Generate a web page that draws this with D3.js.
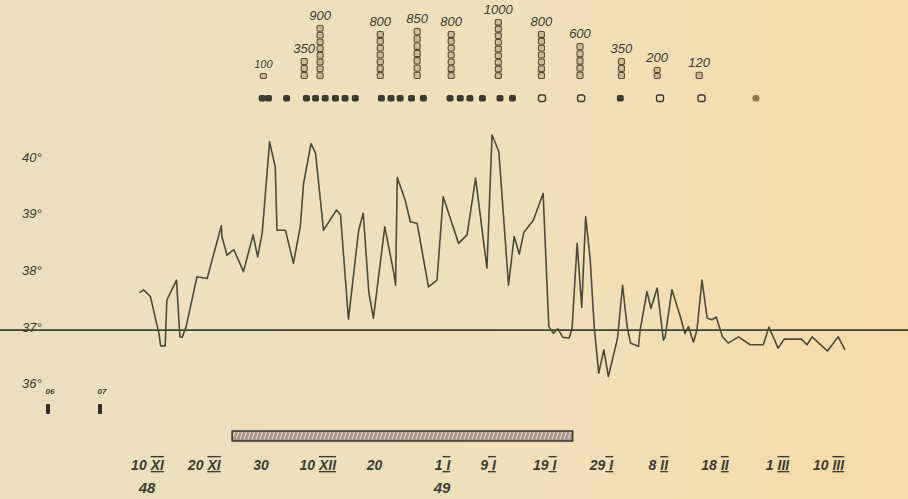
<!DOCTYPE html>
<html>
<head>
<meta charset="utf-8">
<title>Temperature curve XI 1948 - III 1949</title>
<style>
body {
  margin: 0;
  background: #efe0bb;
}

svg {
  display: block;
}

text {
  font-family: "Liberation Sans", sans-serif;
  font-style: italic;
  fill: #3d3c31;
}

.curve {
  fill: none;
  stroke: #4b4b3a;
  stroke-width: 1.6;
  stroke-linejoin: round;
}

.norm {
  stroke: #3e4433;
  stroke-width: 1.8;
}

.xaxis text {
  font-size: 14px;
  font-weight: bold;
}

.roman {
  text-decoration: underline overline;
}

.yaxis text {
  font-size: 13px;
}

.dose text {
  font-size: 13px;
}
</style>
<script src="https://d3js.org/d3.v7.min.js"></script>
</head>
<body>
<div id="chart"></div>
<script>
// day 0 = 10 XI 1948
var tempDay = [-1.3,-0.6,0.6,2.1,2.4,3.2,3.5,5.2,5.8,6.2,
  6.9,8.8,10.6,13.1,13.2,14.1,15.3,17.0,18.7,19.5,
  20.3,21.6,22.6,22.9,24.4,25.8,27.0,27.6,28.9,29.7,
  31.1,33.4,34.1,35.5,37.3,38.1,39.1,39.9,41.9,43.5,
  43.8,44.1,45.5,46.4,47.6,49.6,51.1,52.2,54.9,56.4,
  57.9,59.9,60.8,62.0,63.7,64.7,65.6,66.4,68.1,69.8,
  70.8,71.6,72.4,73.3,74.4,74.9,75.8,76.6,77.3,78.1,
  78.8,79.6,80.5,81.3,82.5,82.9,83.8,84.6,85.2,86.6,
  86.9,88.1,88.8,89.9,91.0,91.3,92.5,94.0,94.8,95.4,
  96.3,96.9,97.8,98.7,99.5,100.3,101.4,102.4,104.2,106.3,
  108.6,109.6,110.3,111.2,112.3,115.3,116.3,117.2,119.9,121.8,123.0]
var tempValue = [37.66,37.71,37.59,36.94,36.72,36.72,37.53,37.88,36.88,36.87,
  37.06,37.94,37.91,38.84,38.65,38.32,38.42,38.03,38.68,38.29,
  38.71,40.32,39.88,38.76,38.76,38.18,38.82,39.59,40.29,40.12,
  38.76,39.12,39.03,37.19,38.76,39.06,37.65,37.21,38.82,38.00,
  37.79,39.69,39.29,38.91,38.88,37.76,37.88,39.35,38.53,38.68,
  39.68,38.09,40.44,40.15,37.79,38.65,38.34,38.72,38.94,39.41,
  37.06,36.94,37.02,36.87,36.86,37.03,38.53,37.40,39.00,38.24,
  37.06,36.24,36.65,36.18,36.68,36.85,37.79,37.06,36.77,36.71,
  37.00,37.68,37.38,37.74,36.82,36.88,37.71,37.23,36.94,37.06,
  36.79,37.00,37.88,37.21,37.18,37.23,36.88,36.77,36.88,36.74,
  36.74,37.05,36.89,36.68,36.84,36.84,36.74,36.88,36.63,36.88,36.65]

var normTemp = 37
var yTicks = [36, 37, 38, 39, 40]

var tickDay = [0, 10, 20, 30, 40, 52, 60, 70, 80, 90, 100, 111, 120]
var tickDate = ['10', '20', '30', '10', '20', '1', '9', '19', '29', '8', '18', '1', '10']
var tickMonth = ['XI', 'XI', '', 'XII', '', 'I', 'I', 'I', 'I', 'II', 'II', 'III', 'III']
var yearDay = [0, 52]
var yearLabel = ['48', '49']

// doses (columns at top)
var doseDay = [20.5, 27.7, 30.5, 41.1, 47.6, 53.6, 61.9, 69.5, 76.3, 83.6, 89.9, 97.3]
var doseValue = [100, 350, 900, 800, 850, 800, 1000, 800, 600, 350, 200, 120]

// row of marks under the columns
var markDay = [20.3, 21.4, 24.6, 28.1, 29.7, 31.4, 33.2, 34.9, 36.7, 41.3, 43.0, 44.6, 46.6,
  48.7, 53.4, 55.2, 56.9, 59.1, 62.2, 64.4, 69.6, 76.5, 83.4, 90.4, 97.7, 107.3]
var markKind = ['f','f','f','f','f','f','f','f','f','f','f','f','f',
  'f','f','f','f','f','f','f','o','o','f','o','o','p']

// hatched period
var periodStart = 15
var periodEnd = 75

var W = 908, H = 499

var svg = d3.select('#chart').append('svg').attr('width', W).attr('height', H)

var defs = svg.append('defs')
var grad = defs.append('linearGradient').attr('id', 'paper')
grad.append('stop').attr('offset', '0%').attr('stop-color', '#ebdfc0')
grad.append('stop').attr('offset', '60%').attr('stop-color', '#efe0ba')
grad.append('stop').attr('offset', '100%').attr('stop-color', '#f6dba8')

var pat = defs.append('pattern').attr('id', 'hatch')
  .attr('width', 4).attr('height', 10).attr('patternUnits', 'userSpaceOnUse')
pat.append('rect').attr('width', 4).attr('height', 10).attr('fill', '#a8958a')
pat.append('line').attr('x1', 0).attr('y1', 9).attr('x2', 3).attr('y2', 1)
  .attr('stroke', '#e6d8c4').attr('stroke-width', 1.2)

svg.append('rect').attr('width', W).attr('height', H).attr('fill', 'url(#paper)')

var x = d3.scaleLinear().domain([0, 120]).range([147, 828])
var y = d3.scaleLinear().domain([36, 40]).range([386.7, 160])
var doseH = d3.scaleLinear().domain([0, 1000]).range([0, 60])
var doseBase = 79
var markY = 98

// 37 line
svg.append('line').attr('class', 'norm')
  .attr('x1', 0).attr('x2', W)
  .attr('y1', y(normTemp)).attr('y2', y(normTemp))

// temperature curve
var pts = tempDay.map((d, i) => [d, tempValue[i]])
svg.append('path').attr('class', 'curve')
  .attr('d', d3.line().x(d => x(d[0])).y(d => y(d[1]))(pts))

// y labels
var ya = svg.append('g').attr('class', 'yaxis').attr('transform', 'translate(22,-3)')
  .call(d3.axisLeft(y).tickValues(yTicks).tickSize(0).tickPadding(0).tickFormat(d => d + '°'))
ya.select('.domain').remove()
ya.selectAll('text').attr('text-anchor', 'start').attr('fill', '#3d3c31')

// x labels
var xa = svg.append('g').attr('class', 'xaxis').attr('transform', 'translate(0,460)')
  .call(d3.axisBottom(x).tickValues(tickDay).tickSize(0).tickPadding(0))
xa.select('.domain').remove()
xa.selectAll('.tick text').each(function(d) {
  var i = tickDay.indexOf(d)
  var t = d3.select(this).text('').attr('fill', '#3d3c31')
  t.append('tspan').text(tickDate[i])
  if (tickMonth[i]) {
    t.append('tspan').text(tickMonth[i].length > 1 ? tickMonth[i] : ' ' + tickMonth[i])
      .attr('class', 'roman').attr('dx', tickMonth[i].length > 1 ? 4 : 0)
  }
})

svg.selectAll('.year').data(yearDay).enter().append('text')
  .attr('class', 'year')
  .attr('x', d => x(d)).attr('y', 493)
  .attr('text-anchor', 'middle')
  .style('font-size', '15px').style('font-weight', 'bold')
  .text((d, i) => yearLabel[i])

// hatched period
svg.append('rect')
  .attr('x', x(periodStart)).attr('y', 431)
  .attr('width', x(periodEnd) - x(periodStart)).attr('height', 10)
  .attr('fill', 'url(#hatch)').attr('stroke', '#3d3a30').attr('stroke-width', 1.6)

// dose columns
var dose = svg.selectAll('.dose').data(doseDay).enter().append('g').attr('class', 'dose')
dose.each(function(d, i) {
  var g = d3.select(this)
  var h = doseH(doseValue[i])
  var n = Math.max(1, Math.round(h / 7))
  var bh = h / n
  for (var k = 0; k < n; k++) {
    g.append('rect')
      .attr('x', x(d) - 3).attr('y', doseBase - (k + 1) * bh + 0.5)
      .attr('width', 6).attr('height', bh - 1).attr('rx', 1.2)
      .attr('fill', '#cfbb90').attr('stroke', '#544a3a').attr('stroke-width', 1.1)
  }
  g.append('text')
    .attr('x', x(d)).attr('y', doseBase - h - 5)
    .attr('text-anchor', 'middle')
    .style('font-size', doseValue[i] < 150 && i == 0 ? '11px' : '13px')
    .text(doseValue[i])
})

// marks row
svg.selectAll('.mark').data(markDay).enter().append('rect')
  .attr('class', 'mark')
  .attr('x', d => x(d) - 3.5).attr('y', markY - 3)
  .attr('width', 7).attr('height', 6.5).attr('rx', (d, i) => markKind[i] == 'p' ? 3 : 2)
  .attr('fill', (d, i) => markKind[i] == 'f' ? '#3b3a30' : markKind[i] == 'p' ? '#8d7556' : 'none')
  .attr('stroke', (d, i) => markKind[i] == 'o' ? '#3b3a30' : 'none')
  .attr('stroke-width', 1.4)

// little keys at lower left
var keys = svg.append('g')
keys.selectAll('text').data(['06', '07']).enter().append('text')
  .attr('x', (d, i) => 50 + i * 52).attr('y', 394)
  .attr('text-anchor', 'middle').style('font-size', '8px').style('font-weight', 'bold')
  .text(d => d)
keys.selectAll('rect').data(['06', '07']).enter().append('rect')
  .attr('x', (d, i) => 46 + i * 52).attr('y', 404)
  .attr('width', 4).attr('height', 10).attr('rx', 1)
  .attr('fill', '#2f2e27')
</script>
</body>
</html>
